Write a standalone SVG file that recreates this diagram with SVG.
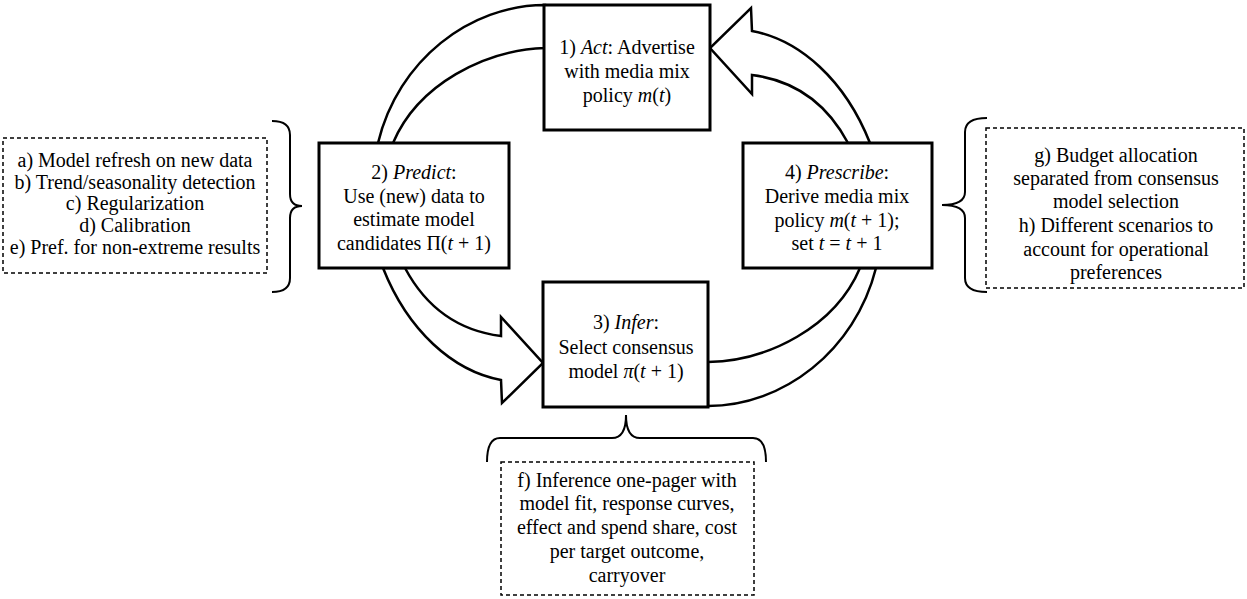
<svg xmlns="http://www.w3.org/2000/svg" width="1247" height="599" viewBox="0 0 1247 599">
<style>
text{font-family:"Liberation Serif","Times New Roman",serif;font-size:20px;fill:#000;text-anchor:middle}
.i{font-style:italic}
.box{fill:#fff;stroke:#000;stroke-width:3}
.arr{fill:#fff;stroke:#000;stroke-width:2.5;stroke-linejoin:miter}
.dash{fill:#fff;stroke:#000;stroke-width:1.5;stroke-dasharray:4 3}
.brace{fill:none;stroke:#000;stroke-width:2}
</style>
<rect width="1247" height="599" fill="#fff"/>
<g id="connectors">
<path class="arr" d="M545,5 C470,5 398,60 378,143 L393,143 C418,84 485,50 545,48 Z"/>
<path class="arr" d="M870,143 C845,80 800,40 752,31 L751,8 L710,48 L752,94 L752,75 C792,80 825,100 848,143 Z"/>
<path class="arr" d="M383,268 C408,331 453,371 501,380 L502,403 L543,363 L501,317 L501,336 C461,331 428,311 405,268 Z"/>
<path class="arr" d="M708,406 C783,406 855,351 876,268 L860,268 C835,327 768,361 708,362 Z"/>
<path class="brace" d="M272,121 Q290,121 290,135 L290,194 Q290,206 302,206 Q290,206 290,218 L290,278 Q290,292 272,292"/>
<path class="brace" d="M987,118 Q965,118 965,132 L965,192 Q965,205 942,205 Q965,205 965,218 L965,278 Q965,292 987,292"/>
<path class="brace" d="M487,462 Q487,438 500,438 L612,438 Q626,438 626,415 Q626,438 640,438 L753,438 Q766,438 766,462"/>
</g>
<g id="act">
<rect class="box" x="544" y="5" width="166" height="125"/>
<text x="627" y="54">1) <tspan class="i">Act</tspan>: Advertise</text>
<text x="627" y="78">with media mix</text>
<text x="627" y="102">policy <tspan class="i">m</tspan>(<tspan class="i">t</tspan>)</text>
</g>
<g id="predict">
<rect class="box" x="319" y="143" width="190" height="125"/>
<text x="414" y="179">2) <tspan class="i">Predict</tspan>:</text>
<text x="414" y="203">Use (new) data to</text>
<text x="414" y="226">estimate model</text>
<text x="414" y="250">candidates Π(<tspan class="i">t</tspan> + 1)</text>
</g>
<g id="infer">
<rect class="box" x="543" y="282" width="165" height="125"/>
<text x="626" y="329">3) <tspan class="i">Infer</tspan>:</text>
<text x="626" y="354">Select consensus</text>
<text x="626" y="378">model <tspan class="i">π</tspan>(<tspan class="i">t</tspan> + 1)</text>
</g>
<g id="prescribe">
<rect class="box" x="743" y="143" width="189" height="125"/>
<text x="837" y="179">4) <tspan class="i">Prescribe</tspan>:</text>
<text x="837" y="203">Derive media mix</text>
<text x="837" y="227">policy <tspan class="i">m</tspan>(<tspan class="i">t</tspan> + 1);</text>
<text x="837" y="250">set <tspan class="i">t</tspan> = <tspan class="i">t</tspan> + 1</text>
</g>
<g id="note-predict">
<rect class="dash" x="3" y="138" width="264" height="135"/>
<text x="135" y="167">a) Model refresh on new data</text>
<text x="135" y="189">b) Trend/seasonality detection</text>
<text x="135" y="210">c) Regularization</text>
<text x="135" y="232">d) Calibration</text>
<text x="135" y="254">e) Pref. for non-extreme results</text>
</g>
<g id="note-prescribe">
<rect class="dash" x="986" y="128" width="258" height="160"/>
<text x="1116" y="162">g) Budget allocation</text>
<text x="1116" y="185">separated from consensus</text>
<text x="1116" y="208">model selection</text>
<text x="1116" y="232">h) Different scenarios to</text>
<text x="1116" y="256">account for operational</text>
<text x="1116" y="279">preferences</text>
</g>
<g id="note-infer">
<rect class="dash" x="501" y="462" width="253" height="133"/>
<text x="627" y="487">f) Inference one-pager with</text>
<text x="627" y="510">model fit, response curves,</text>
<text x="627" y="534">effect and spend share, cost</text>
<text x="627" y="558">per target outcome,</text>
<text x="627" y="582">carryover</text>
</g>
</svg>
